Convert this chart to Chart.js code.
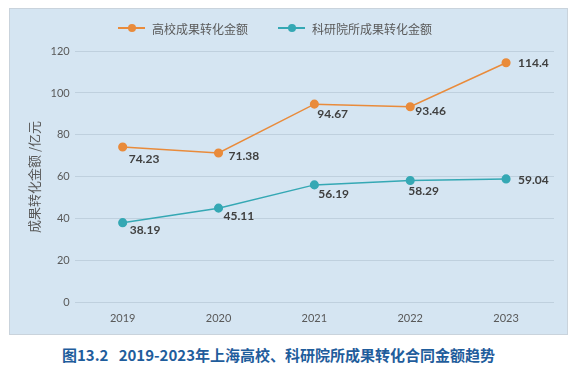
<!DOCTYPE html>
<html>
<head>
<meta charset="utf-8">
<script src="https://cdn.jsdelivr.net/npm/chart.js@4"></script>
<style>
  body { margin: 0; background: #fff; width: 576px; height: 372px; position: relative; overflow: hidden; }
  #panel { position: absolute; left: 9px; top: 8px; width: 559px; height: 327px; background: #d5e5f2; border: 1px solid #c9d3dc; box-sizing: border-box; }
  #chart { display: block; }
  #legend { position: absolute; left: 118px; top: 20px; height: 16px; display: flex; align-items: center; font: 12px "Noto Sans CJK SC", sans-serif; color: #595959; white-space: nowrap; }
  #legend .item { display: flex; align-items: center; margin-right: 30px; }
  #legend .mark { position: relative; width: 27px; height: 10px; margin-right: 7px; }
  #legend .mark::before { content: ''; position: absolute; left: 0; right: 0; top: 4px; height: 1.5px; background: var(--c); }
  #legend .mark::after { content: ''; position: absolute; left: 10px; top: 1px; width: 8px; height: 8px; border-radius: 50%; background: var(--c); }
  #caption { position: absolute; left: 62px; top: 344px; font: bold 15px "Noto Sans CJK SC", sans-serif; color: #1f5d9c; white-space: pre; }
</style>
</head>
<body>
<div id="panel"><canvas id="chart" width="557" height="325"></canvas></div>
<div id="legend"></div>
<div id="caption">图13.2   2019-2023年上海高校、科研院所成果转化合同金额趋势</div>
<script>
const years = ['2019', '2020', '2021', '2022', '2023'];
const universityValues = [74.23, 71.38, 94.67, 93.46, 114.4];
const instituteValues = [38.19, 45.11, 56.19, 58.29, 59.04];
const seriesNames = ['高校成果转化金额', '科研院所成果转化金额'];

const orange = '#e98b3b';
const teal = '#35a8b4';
const textColor = '#595959';
const fontFamily = "Lato, 'Noto Sans CJK SC', sans-serif";

// label nudges (dx, dy) from each point, like the hand-placed labels in the original
const labelNudges = [
    [[6, 12], [10, 3], [3, 10], [5, 4], [12, 0]],
    [[7, 7], [5, 8], [4, 9], [-2, 11], [12, 1]]
];

const valueLabels = {
    id: 'valueLabels',
    afterDatasetsDraw(chart) {
        const ctx = chart.ctx;
        ctx.save();
        ctx.font = 'bold 12px ' + fontFamily;
        ctx.fillStyle = '#404040';
        ctx.textBaseline = 'middle';
        ctx.textAlign = 'left';
        chart.data.datasets.forEach((ds, i) => {
            chart.getDatasetMeta(i).data.forEach((pt, j) => {
                const [dx, dy] = labelNudges[i][j];
                ctx.fillText(String(ds.data[j]), pt.x + dx, pt.y + dy);
            });
        });
        ctx.restore();
    }
};

const chart = new Chart(document.getElementById('chart').getContext('2d'), {
    type: 'line',
    data: {
        labels: years,
        datasets: [{
            label: seriesNames[0],
            data: universityValues,
            borderColor: orange,
            backgroundColor: orange,
            borderWidth: 1.5,
            pointRadius: 3.8,
            pointHoverRadius: 3.8,
            tension: 0
        }, {
            label: seriesNames[1],
            data: instituteValues,
            borderColor: teal,
            backgroundColor: teal,
            borderWidth: 1.5,
            pointRadius: 3.8,
            pointHoverRadius: 3.8,
            tension: 0
        }]
    },
    options: {
        responsive: false,
        animation: false,
        layout: { padding: { left: 10, right: 13, top: 42, bottom: 8 } },
        scales: {
            x: {
                offset: true,
                grid: { display: false },
                border: { display: false },
                ticks: { color: textColor, font: { family: fontFamily, size: 11 }, padding: 1 }
            },
            y: {
                min: 0,
                max: 120,
                ticks: { stepSize: 20, color: textColor, font: { family: fontFamily, size: 11 }, padding: 5 },
                grid: { color: '#bfd0de', drawTicks: false },
                border: { display: false },
                title: {
                    display: true,
                    text: '成果转化金额 /亿元',
                    color: textColor,
                    font: { family: "'Noto Sans CJK SC', sans-serif", size: 13 },
                    padding: { top: 6, bottom: 4 }
                }
            }
        },
        plugins: {
            legend: { display: false },
            tooltip: { enabled: false }
        }
    },
    plugins: [valueLabels]
});

// html legend: line with a dot, then the series name
const legendBox = document.getElementById('legend');
chart.data.datasets.forEach(ds => {
    const item = document.createElement('span');
    item.className = 'item';
    item.innerHTML = `<span class="mark" style="--c:${ds.borderColor}"></span><span>${ds.label}</span>`;
    legendBox.appendChild(item);
});
</script>
</body>
</html>
